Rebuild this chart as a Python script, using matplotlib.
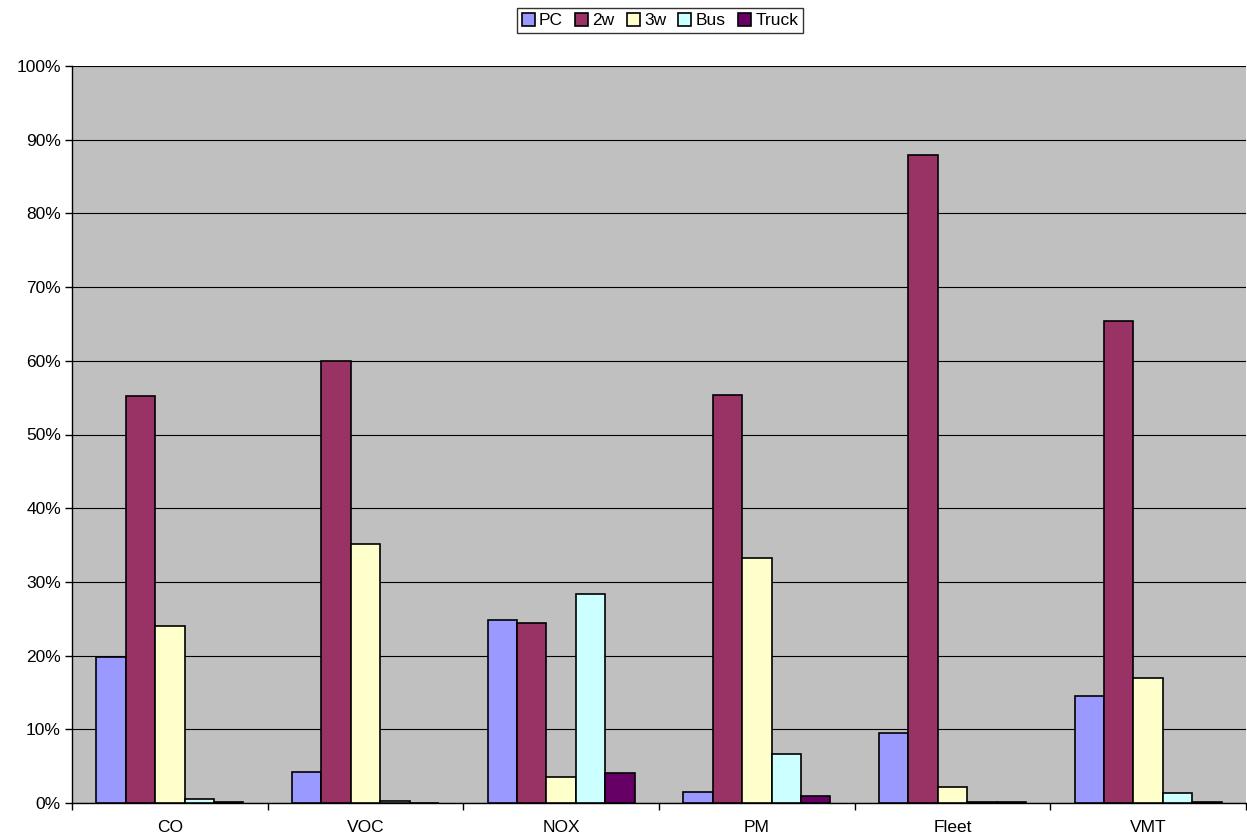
import numpy as np
import matplotlib
matplotlib.use("Agg")
import matplotlib.pyplot as plt
from matplotlib.ticker import FixedLocator, PercentFormatter

plt.rcParams['font.family'] = ['Liberation Sans', 'DejaVu Sans']

# Share of each vehicle type (%)
categories = ["CO", "VOC", "NOX", "PM", "Fleet", "VMT"]
pc = [19.8, 4.2, 24.8, 1.5, 9.5, 14.5]
two_w = [55.2, 60.0, 24.4, 55.4, 87.9, 65.4]
three_w = [24.0, 35.1, 3.5, 33.2, 2.2, 16.9]
bus = [0.5, 0.3, 28.3, 6.6, 0.1, 1.4]
truck = [0.1, 0.05, 4.1, 1.0, 0.1, 0.2]

series = [("PC", pc, "#9999FF"), ("2w", two_w, "#993366"),
          ("3w", three_w, "#FFFFCC"), ("Bus", bus, "#CCFFFF"),
          ("Truck", truck, "#660066")]

fig = plt.figure(figsize=(12.47, 8.39), dpi=100)
ax = fig.add_axes([72 / 1247, 36 / 839, 1174 / 1247, 737 / 839])
ax.set_facecolor("#C0C0C0")

x = np.arange(len(categories))
w = 0.15
for i, (name, vals, col) in enumerate(series):
    ax.bar(x + (i - 2) * w, vals, width=w, color=col, edgecolor="black",
           linewidth=1.2, label=name, zorder=3)

ax.set_xlim(-0.5, len(categories) - 0.5)
ax.set_ylim(0, 100)
ax.set_yticks(np.arange(0, 101, 10))
ax.yaxis.set_major_formatter(PercentFormatter(decimals=0))
ax.grid(axis="y", color="black", linewidth=0.8, zorder=1)

ax.set_xticks(x)
ax.set_xticklabels(categories)
ax.xaxis.set_minor_locator(FixedLocator(np.arange(-0.5, len(categories), 1)))
ax.tick_params(axis="x", which="major", length=0, pad=21, labelsize=12.5)
ax.tick_params(axis="x", which="minor", length=5, width=1, color="black")
ax.tick_params(axis="y", length=5, width=1, labelsize=12.5, pad=3)
for lbl in ax.get_xticklabels():
    lbl.set_verticalalignment("baseline")

for s in ["top", "right"]:
    ax.spines[s].set_visible(False)
ax.spines["left"].set_linewidth(1)
ax.spines["bottom"].set_linewidth(1)

leg = fig.legend(loc="center", bbox_to_anchor=(660 / 1247, 1 - 20.5 / 839),
                 ncol=5, fontsize=12.5, frameon=True, fancybox=False,
                 edgecolor="black", handlelength=0.75, handleheight=0.75,
                 handletextpad=0.25, columnspacing=0.7, borderpad=0.25,
                 borderaxespad=0)
leg.get_frame().set_linewidth(1)

fig.savefig("out.png", dpi=100)
